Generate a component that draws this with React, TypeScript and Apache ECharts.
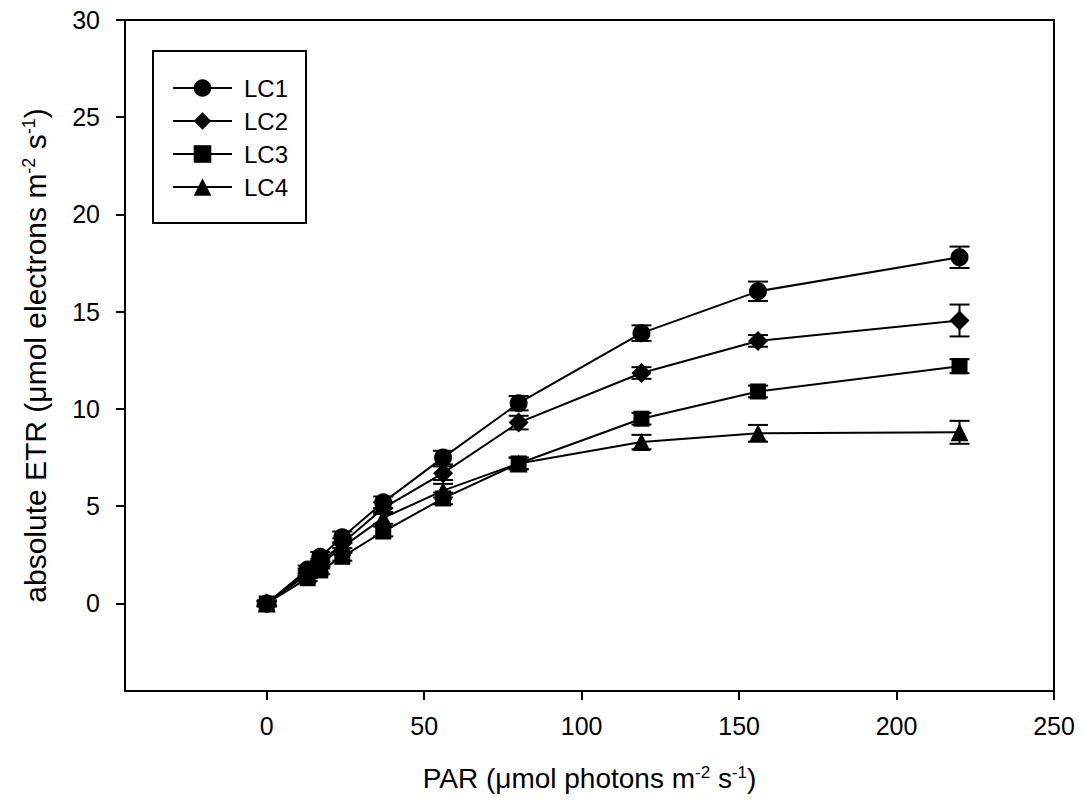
import React, { useEffect, useRef } from "react";
import * as echarts from "echarts";

// PAR steps of the light curve (µmol photons m-2 s-1)
const par = [0, 13, 17, 24, 37, 56, 80, 119, 156, 220];

// absolute ETR means per culture
const lc1 = [0, 1.75, 2.4, 3.4, 5.2, 7.5, 10.3, 13.9, 16.05, 17.8];
const lc2 = [0, 1.6, 2.1, 3.1, 4.9, 6.7, 9.3, 11.85, 13.5, 14.55];
const lc3 = [0, 1.3, 1.7, 2.4, 3.7, 5.4, 7.2, 9.5, 10.9, 12.2];
const lc4 = [0, 1.5, 2.0, 2.9, 4.4, 5.8, 7.2, 8.3, 8.75, 8.8];

// standard errors
const lc1Err = [0.15, 0.2, 0.25, 0.3, 0.3, 0.35, 0.37, 0.4, 0.5, 0.55];
const lc2Err = [0.15, 0.2, 0.2, 0.25, 0.3, 0.35, 0.35, 0.3, 0.3, 0.82];
const lc3Err = [0.1, 0.15, 0.2, 0.2, 0.25, 0.3, 0.3, 0.3, 0.3, 0.36];
const lc4Err = [0.1, 0.2, 0.2, 0.25, 0.3, 0.35, 0.3, 0.37, 0.43, 0.59];

const seriesNames = ["LC1", "LC2", "LC3", "LC4"];
const symbols = ["circle", "diamond", "rect", "triangle"];
const symbolSizes = [18, 20, 16, 18];

const xTicks = [0, 50, 100, 150, 200, 250];
const yTicks = [0, 5, 10, 15, 20, 25, 30];

const FONT = "'Liberation Sans', Arial, Helvetica, sans-serif";

export default function App() {
  const ref = useRef<HTMLDivElement>(null);

  useEffect(() => {
    if (!ref.current) return;
    const chart = echarts.init(ref.current, null, { renderer: "svg" });

    const means = [lc1, lc2, lc3, lc4];
    const errs = [lc1Err, lc2Err, lc3Err, lc4Err];

    const lineSeries = means.map((vals, i) => ({
      name: seriesNames[i],
      type: "line",
      data: par.map((x, j) => [x, vals[j]]),
      symbol: symbols[i],
      symbolSize: symbolSizes[i],
      lineStyle: { color: "#000", width: 2 },
      itemStyle: { color: "#000" },
      z: 3,
    }));

    const errorSeries = means.map((vals, i) => ({
      name: seriesNames[i] + " SE",
      type: "custom",
      data: par.map((x, j) => [x, vals[j] - errs[i][j], vals[j] + errs[i][j]]),
      z: 2,
      silent: true,
      renderItem: (params: any, api: any) => {
        const x = api.value(0);
        const lo = api.coord([x, api.value(1)]);
        const hi = api.coord([x, api.value(2)]);
        const cap = 10;
        const style = { stroke: "#000", lineWidth: 2 };
        return {
          type: "group",
          children: [
            { type: "line", shape: { x1: lo[0], y1: lo[1], x2: hi[0], y2: hi[1] }, style },
            { type: "line", shape: { x1: lo[0] - cap, y1: lo[1], x2: lo[0] + cap, y2: lo[1] }, style },
            { type: "line", shape: { x1: hi[0] - cap, y1: hi[1], x2: hi[0] + cap, y2: hi[1] }, style },
          ],
        };
      },
    }));

    const titleStyle = (size: number, supSize: number) => ({
      fontFamily: FONT,
      fontSize: size,
      color: "#000",
      rich: { sup: { fontFamily: FONT, fontSize: supSize, color: "#000", verticalAlign: "top" } },
    });

    chart.setOption({
      animation: false,
      backgroundColor: "#fff",
      textStyle: { fontFamily: FONT, color: "#000" },
      grid: {
        left: 125,
        right: 29,
        top: 20,
        bottom: 118,
        show: true,
        borderColor: "#000",
        borderWidth: 2,
        backgroundColor: "transparent",
      },
      legend: {
        data: seriesNames,
        orient: "vertical",
        left: 153,
        top: 51,
        itemWidth: 59,
        itemHeight: 22,
        itemGap: 9,
        padding: [25, 18, 24, 19],
        borderColor: "#000",
        borderWidth: 2,
        backgroundColor: "#fff",
        textStyle: { fontFamily: FONT, fontSize: 24, color: "#000", padding: [0, 0, 0, 7] },
        selectedMode: false,
      },
      xAxis: {
        type: "value",
        min: -45,
        max: 250,
        name: "PAR (\u03bcmol photons m{sup|-2} s{sup|-1})",
        nameLocation: "middle",
        nameGap: 73,
        nameTextStyle: titleStyle(28, 17),
        axisLine: { show: true, onZero: false, lineStyle: { color: "#000", width: 2 } },
        axisTick: { show: true, inside: false, length: 9, lineStyle: { color: "#000", width: 2 }, customValues: xTicks },
        axisLabel: { fontFamily: FONT, fontSize: 25, color: "#000", margin: 22, customValues: xTicks },
        splitLine: { show: false },
      },
      yAxis: {
        type: "value",
        min: -4.5,
        max: 30,
        name: "absolute ETR (\u03bcmol electrons m{sup|-2} s{sup|-1})",
        nameLocation: "middle",
        nameGap: 75,
        nameRotate: 90,
        nameTextStyle: titleStyle(30, 18),
        axisLine: { show: true, onZero: false, lineStyle: { color: "#000", width: 2 } },
        axisTick: { show: true, inside: false, length: 9, lineStyle: { color: "#000", width: 2 }, customValues: yTicks },
        axisLabel: { fontFamily: FONT, fontSize: 25, color: "#000", margin: 25, customValues: yTicks },
        splitLine: { show: false },
      },
      series: [...errorSeries, ...lineSeries],
    });

    return () => chart.dispose();
  }, []);

  return (
    <div
      ref={ref}
      style={{ position: "fixed", left: 0, top: 0, width: 1083, height: 809, background: "#fff" }}
    />
  );
}
